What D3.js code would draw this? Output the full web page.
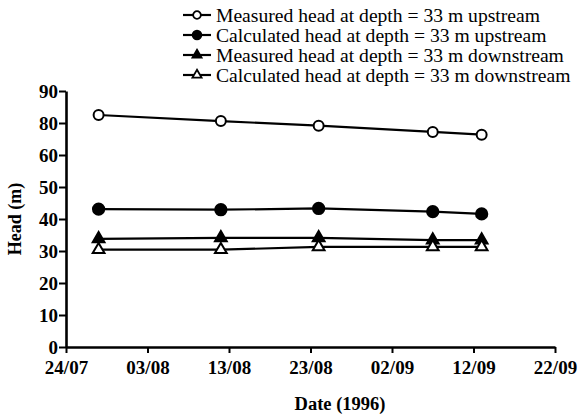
<!DOCTYPE html>
<html>
<head>
<meta charset="utf-8">
<script src="https://cdn.jsdelivr.net/npm/d3@7"></script>
<style>
  html, body { margin: 0; padding: 0; background: #fff; }
  svg { display: block; }
  text { font-family: "Liberation Serif", "Times New Roman", serif; fill: #000; }
</style>
</head>
<body>
<svg id="chart" width="578" height="418"></svg>
<script>
// Observation dates (1996)
const dates = ["1996-07-28", "1996-08-12", "1996-08-24", "1996-09-07", "1996-09-13"];

// Hydraulic head (m) for each series
const measuredUpstream   = [82.5, 80.6, 78.3, 74.4, 72.7];
const calculatedUpstream = [43.1, 42.9, 43.3, 42.3, 41.6];
const measuredDownstream = [33.8, 34.1, 34.1, 33.4, 33.4];
const calculatedDownstream = [30.4, 30.4, 31.3, 31.3, 31.3];

const seriesNames = [
  "Measured head at depth = 33 m upstream",
  "Calculated head at depth = 33 m upstream",
  "Measured head at depth = 33 m downstream",
  "Calculated head at depth = 33 m downstream"
];

// Axis ticks
const xTickDates = ["1996-07-24", "1996-08-03", "1996-08-13", "1996-08-23", "1996-09-02", "1996-09-12", "1996-09-22"];
const yTickValues = [0, 10, 20, 30, 40, 50, 60, 80, 90];

const parse = d3.utcParse("%Y-%m-%d");
const fmt = d3.utcFormat("%d/%m");

const svg = d3.select("#chart");
const plotLeft = 66, plotRight = 555, plotTop = 91, plotBottom = 347;

const x = d3.scaleUtc()
  .domain([parse(xTickDates[0]), parse(xTickDates[xTickDates.length - 1])])
  .range([plotLeft, plotRight]);

// Evenly spaced ticks, piecewise between the labelled values
const yStep = (plotBottom - plotTop) / (yTickValues.length - 1);
const y = d3.scaleLinear()
  .domain(yTickValues)
  .range(yTickValues.map((_, i) => plotBottom - i * yStep));

// Axes
const xAxis = d3.axisBottom(x)
  .tickValues(xTickDates.map(parse))
  .tickFormat(fmt)
  .tickSize(6)
  .tickSizeOuter(0)
  .tickPadding(8);

const yAxis = d3.axisLeft(y)
  .tickValues(yTickValues)
  .tickFormat(d3.format("d"))
  .tickSize(7)
  .tickSizeOuter(0)
  .tickPadding(1);

const gx = svg.append("g").attr("transform", `translate(0,${plotBottom})`).call(xAxis);
const gy = svg.append("g").attr("transform", `translate(${plotLeft},0)`).call(yAxis);

[gx, gy].forEach(g => {
  g.select(".domain").attr("stroke", "#000").attr("stroke-width", 2.6);
  g.selectAll(".tick line").attr("stroke", "#000").attr("stroke-width", 2);
  g.selectAll(".tick text")
    .attr("font-family", "'Liberation Serif', 'Times New Roman', serif")
    .attr("font-size", 19)
    .attr("font-weight", "bold")
    .attr("fill", "#000");
});
gy.selectAll(".tick text").attr("dy", "0.34em");

// Axis titles
svg.append("text")
  .attr("x", 340).attr("y", 410)
  .attr("text-anchor", "middle")
  .attr("font-size", 18.5)
  .attr("font-weight", "bold")
  .text("Date (1996)");

svg.append("text")
  .attr("transform", "translate(21,219) rotate(-90)")
  .attr("text-anchor", "middle")
  .attr("font-size", 18)
  .attr("font-weight", "bold")
  .text("Head (m)");

// Series definitions
const series = [
  { name: seriesNames[0], values: measuredUpstream,   shape: d3.symbolCircle,   size: 78, fill: "#fff" },
  { name: seriesNames[1], values: calculatedUpstream, shape: d3.symbolCircle,   size: 100, fill: "#000" },
  { name: seriesNames[2], values: measuredDownstream, shape: d3.symbolTriangle, size: 60, fill: "#000" },
  { name: seriesNames[3], values: calculatedDownstream, shape: d3.symbolTriangle, size: 60, fill: "#fff" }
];

const line = d3.line()
  .x(d => x(d.date))
  .y(d => y(d.value));

series.forEach(s => {
  const pts = dates.map((d, i) => ({ date: parse(d), value: s.values[i] }));
  svg.append("path")
    .datum(pts)
    .attr("fill", "none")
    .attr("stroke", "#000")
    .attr("stroke-width", 2.2)
    .attr("d", line);
  svg.selectAll(null)
    .data(pts)
    .join("path")
    .attr("transform", d => `translate(${x(d.date)},${y(d.value)})`)
    .attr("d", d3.symbol().type(s.shape).size(s.size))
    .attr("fill", s.fill)
    .attr("stroke", "#000")
    .attr("stroke-width", 2);
});

// Legend
const legend = svg.append("g");
series.forEach((s, i) => {
  const cy = 15 + i * 20;
  legend.append("line")
    .attr("x1", 183).attr("x2", 211)
    .attr("y1", cy).attr("y2", cy)
    .attr("stroke", "#000").attr("stroke-width", 2.2);
  legend.append("path")
    .attr("transform", `translate(197,${cy})`)
    .attr("d", d3.symbol().type(s.shape).size(s.size * 0.6))
    .attr("fill", s.fill)
    .attr("stroke", "#000")
    .attr("stroke-width", 1.8);
  legend.append("text")
    .attr("x", 216).attr("y", cy)
    .attr("dy", "0.35em")
    .attr("font-size", 19.6)
    .text(s.name);
});
</script>
</body>
</html>
